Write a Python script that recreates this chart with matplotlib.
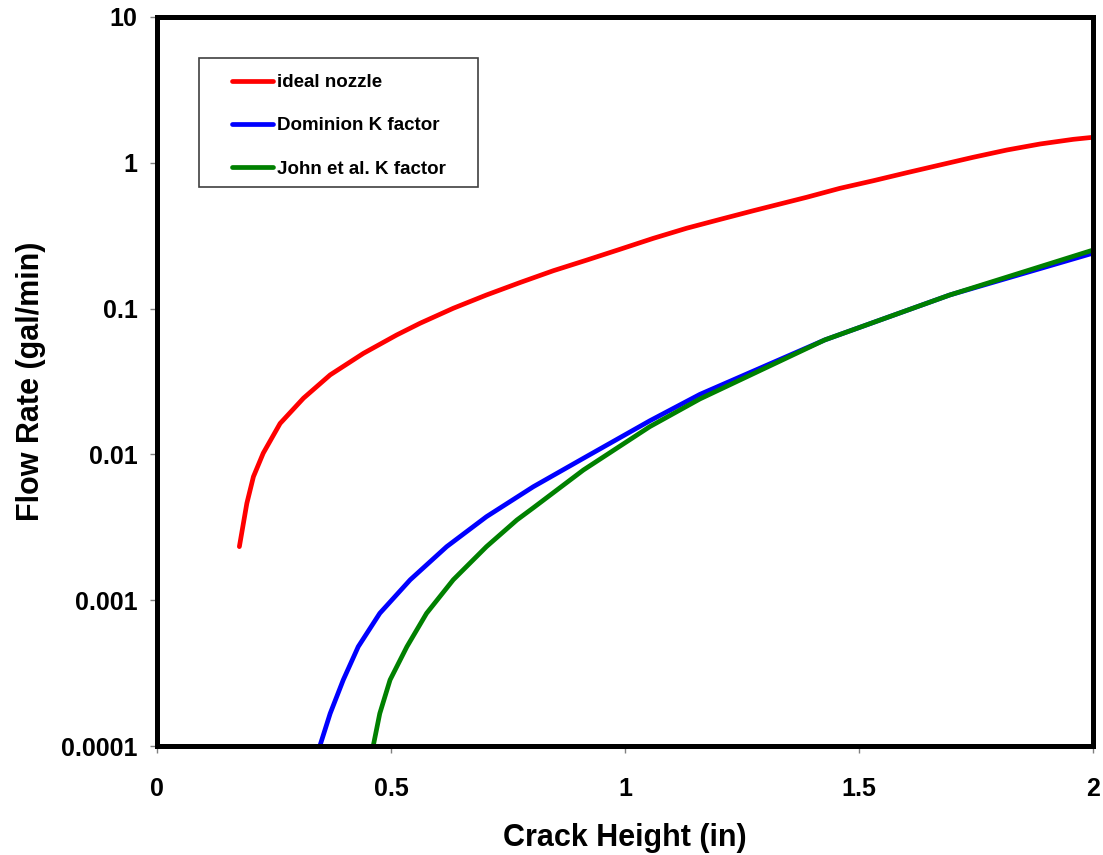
import numpy as np
import matplotlib
matplotlib.use("Agg")
import matplotlib.pyplot as plt
from matplotlib.patches import Rectangle

# values
ideal_h = [0.176, 0.192, 0.206, 0.227, 0.263, 0.313, 0.370, 0.441, 0.512, 0.562,
           0.633, 0.704, 0.776, 0.847, 0.918, 0.989, 1.060, 1.132, 1.203, 1.274,
           1.388, 1.459, 1.531, 1.602, 1.673, 1.744, 1.816, 1.887, 1.958, 2.0]
ideal_q = [0.00233, 0.00462, 0.00703, 0.0102, 0.0163, 0.0243, 0.0351, 0.0493, 0.0659,
           0.0793, 0.1005, 0.124, 0.151, 0.182, 0.215, 0.255, 0.303, 0.356, 0.409,
           0.469, 0.580, 0.668, 0.754, 0.855, 0.966, 1.091, 1.224, 1.346,
           1.449, 1.496]

dominion_h = [0.348, 0.370, 0.398, 0.430, 0.476, 0.541, 0.619, 0.704, 0.804, 0.911,
              1.053, 1.160, 1.427, 1.694, 2.0]
dominion_q = [1e-4, 1.67e-4, 2.84e-4, 4.80e-4, 8.13e-4, 0.00138, 0.00233, 0.00374,
              0.0060, 0.0094, 0.0170, 0.0258, 0.061, 0.124, 0.240]

john_h = [0.462, 0.476, 0.498, 0.534, 0.576, 0.633, 0.704, 0.769, 0.804, 0.911,
          1.053, 1.160, 1.427, 1.694, 2.0]
john_q = [1e-4, 1.67e-4, 2.84e-4, 4.80e-4, 8.13e-4, 0.00138, 0.00233, 0.00355,
          0.0043, 0.00781, 0.0155, 0.0240, 0.061, 0.124, 0.252]

x_ticks = [0, 0.5, 1, 1.5, 2]
x_labels = ["0", "0.5", "1", "1.5", "2"]
y_ticks = [1e-4, 1e-3, 1e-2, 1e-1, 1, 10]
y_labels = ["0.0001", "0.001", "0.01", "0.1", "1", "10"]

plt.rcParams['font.family'] = ['Liberation Sans', 'DejaVu Sans']
plt.rcParams['font.weight'] = 'bold'

fig = plt.figure(figsize=(11.03, 8.55), dpi=100)
ax = fig.add_axes([157 / 1103, 1 - 746 / 855, 936 / 1103, 729 / 855])

line_kw = dict(lw=3.4, solid_joinstyle='round', solid_capstyle='round')
ax.plot(ideal_h, ideal_q, color='#ff0000', label='ideal nozzle', **line_kw)
ax.plot(dominion_h, dominion_q, color='#0000ff', label='Dominion K factor', **line_kw)
ax.plot(john_h, john_q, color='#008000', label='John et al. K factor', **line_kw)

ax.set_yscale('log')
ax.set_xlim(0, 2)
ax.set_ylim(1e-4, 10)
ax.set_xticks(x_ticks)
ax.set_xticklabels(x_labels)
ax.set_yticks(y_ticks)
ax.set_yticklabels(y_labels)
ax.minorticks_off()

for s in ax.spines.values():
    s.set_linewidth(3.6)
    s.set_color('black')
    s.set_zorder(5)
ax.tick_params(direction='out', length=5, width=1, color='#808080', labelsize=18)
ax.tick_params(axis='x', pad=17)
ax.tick_params(axis='y', pad=9)
for lab in ax.get_xticklabels() + ax.get_yticklabels():
    lab.set_fontweight('bold')

ax.set_xlabel('Crack Height (in)', fontsize=22, fontweight='bold', labelpad=16)
ax.set_ylabel('Flow Rate (gal/min)', fontsize=22, fontweight='bold', labelpad=11)

# legend box drawn separately so the padding inside matches
box = Rectangle((42 / 936, 559 / 729), 279 / 936, 129 / 729, transform=ax.transAxes,
                facecolor='white', edgecolor='#404040', lw=1.2, zorder=4)
ax.add_patch(box)
leg = ax.legend(loc='upper left', bbox_to_anchor=(75 / 936, 672 / 729), borderaxespad=0,
                frameon=False, prop={'size': 13.5, 'weight': 'bold'}, handlelength=2.2,
                handletextpad=0.2, labelspacing=1.4, borderpad=0)
leg.set_zorder(6)

fig.savefig('out.png', dpi=100)
